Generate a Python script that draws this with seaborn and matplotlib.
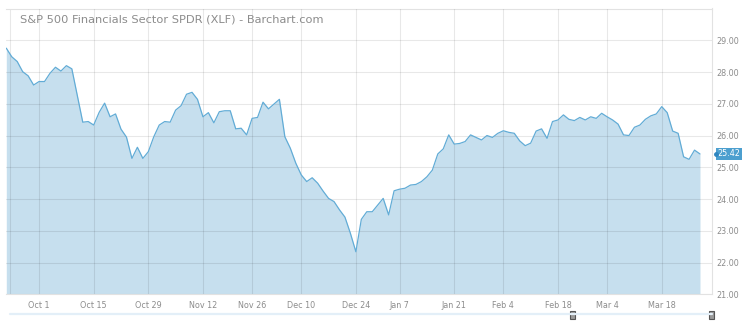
import numpy as np
import pandas as pd
import matplotlib
matplotlib.use("Agg")
import matplotlib.pyplot as plt
from matplotlib.lines import Line2D
from matplotlib.patches import Rectangle
import seaborn as sns

# ---------------- data ----------------
title = "S&P 500 Financials Sector SPDR (XLF) - Barchart.com"
start_date = "2018-09-21"
end_date = "2019-03-27"
holidays = ["2018-11-22", "2018-12-05", "2018-12-25", "2019-01-01",
            "2019-01-21", "2019-02-18"]

close_values = [
    28.75, 28.48, 28.33, 28.01, 27.88, 27.59, 27.70, 27.70, 27.96, 28.15,
    28.03, 28.20, 28.10, 27.26, 26.42, 26.44, 26.33, 26.73, 27.02, 26.59,
    26.68, 26.20, 25.95, 25.28, 25.63, 25.28, 25.49, 25.96, 26.33, 26.44,
    26.42, 26.80, 26.94, 27.30, 27.36, 27.14, 26.59, 26.72, 26.40, 26.75,
    26.78, 26.78, 26.21, 26.23, 26.02, 26.54, 26.57, 27.05, 26.84, 26.99,
    27.14, 25.96, 25.60, 25.13, 24.76, 24.55, 24.67, 24.50, 24.25, 24.02,
    23.92, 23.66, 23.43, 22.92, 22.34, 23.36, 23.60, 23.60, 23.81, 24.02,
    23.50, 24.26, 24.31, 24.34, 24.44, 24.46, 24.55, 24.70, 24.91, 25.42,
    25.58, 26.02, 25.73, 25.75, 25.81, 26.02, 25.94, 25.86, 26.00, 25.94,
    26.07, 26.15, 26.10, 26.07, 25.83, 25.68, 25.76, 26.14, 26.21, 25.91,
    26.44, 26.49, 26.65, 26.51, 26.47, 26.57, 26.49, 26.59, 26.54, 26.70,
    26.59, 26.49, 26.36, 26.02, 26.00, 26.26, 26.33, 26.51, 26.62, 26.68,
    26.91, 26.72, 26.14, 26.07, 25.33, 25.25, 25.54, 25.42,
]

tick_dates = ["2018-10-01", "2018-10-15", "2018-10-29", "2018-11-12",
              "2018-11-26", "2018-12-10", "2018-12-24", "2019-01-07",
              "2019-01-21", "2019-02-04", "2019-02-18", "2019-03-04",
              "2019-03-18"]
tick_labels = ["Oct 1", "Oct 15", "Oct 29", "Nov 12", "Nov 26", "Dec 10",
               "Dec 24", "Jan 7", "Jan 21", "Feb 4", "Feb 18", "Mar 4",
               "Mar 18"]
y_ticks = [21, 22, 23, 24, 25, 26, 27, 28, 29]
y_min, y_max = 21, 30

# ---------------- build frame ----------------
dates = pd.bdate_range(start_date, end_date)
dates = dates[~dates.isin(pd.to_datetime(holidays))]
df = pd.DataFrame({"date": dates[:len(close_values)], "close": close_values})
df["pos"] = np.arange(len(df))
tick_pos = np.searchsorted(df["date"].values, pd.to_datetime(tick_dates).values)

# ---------------- style ----------------
sns.set_style("white")
plt.rcParams["font.family"] = ["DejaVu Sans"]

W, H = 750, 325
fig = plt.figure(figsize=(W / 100, H / 100), dpi=100)
left_px, right_px, top_px, bottom_px = 6.3, 712, 8.5, 294.3
ax = fig.add_axes([left_px / W, (H - bottom_px) / H,
                   (right_px - left_px) / W, (bottom_px - top_px) / H])

fill_c = "#c6dfee"
line_c = "#62acd6"
grid_c = "#000000"
text_c = "#8c8c8c"

ax.fill_between(df["pos"], df["close"], y_min, color=fill_c, lw=0, zorder=1)
sns.lineplot(data=df, x="pos", y="close", ax=ax, color=line_c, lw=0.9,
             zorder=3)

ax.set_xlim(0, 129.2)
ax.set_ylim(y_min, y_max)
ax.set_xticks(tick_pos)
ax.set_xticklabels(tick_labels)
ax.set_yticks(y_ticks)
ax.set_yticklabels([f"{v:.2f}" for v in y_ticks])
ax.yaxis.tick_right()
ax.set_xlabel("")
ax.set_ylabel("")
ax.set_axisbelow(False)
ax.grid(True, axis="both", color=grid_c, alpha=0.09, lw=0.8)
ax.axvline(0.7, color=grid_c, alpha=0.09, lw=0.8, zorder=2.5)
ax.tick_params(axis="both", length=0, labelsize=5.8, colors=text_c)
ax.tick_params(axis="x", pad=5)
ax.tick_params(axis="y", pad=3)
for s in ["top", "right", "bottom"]:
    ax.spines[s].set_color("#e2e2e2")
    ax.spines[s].set_linewidth(0.8)
ax.spines["left"].set_visible(False)

fig.text(20 / W, 1 - 20 / H, title, fontsize=8.2, color=text_c,
         va="center", ha="left")

# last value marker
last = close_values[-1]
ax.annotate(f"{last:.2f}", xy=(1.0, last), xycoords=("axes fraction", "data"),
            xytext=(4, 0), textcoords="offset points", fontsize=5.8,
            color="white", va="center", ha="left",
            bbox=dict(boxstyle="square,pad=0.2", fc="#4c9fcf", ec="none"),
            annotation_clip=False)
ax.plot([1.0 + 4 / (right_px - left_px)], [last], marker="o", ms=2.5,
        color="#2f86c0", transform=ax.get_yaxis_transform(), clip_on=False,
        zorder=5)

# navigator bar
fig.add_artist(Line2D([10 / W, 712 / W], [(H - 314) / H] * 2, color="#e3eff8",
                      lw=1.6))
for hx in [569.5, 708.5]:
    fig.add_artist(Rectangle((hx / W, (H - 318.5) / H), 5 / W, 8 / H,
                             fc="#9a9a9a", ec="#555555", lw=0.8))

fig.savefig("out.png", dpi=100)
